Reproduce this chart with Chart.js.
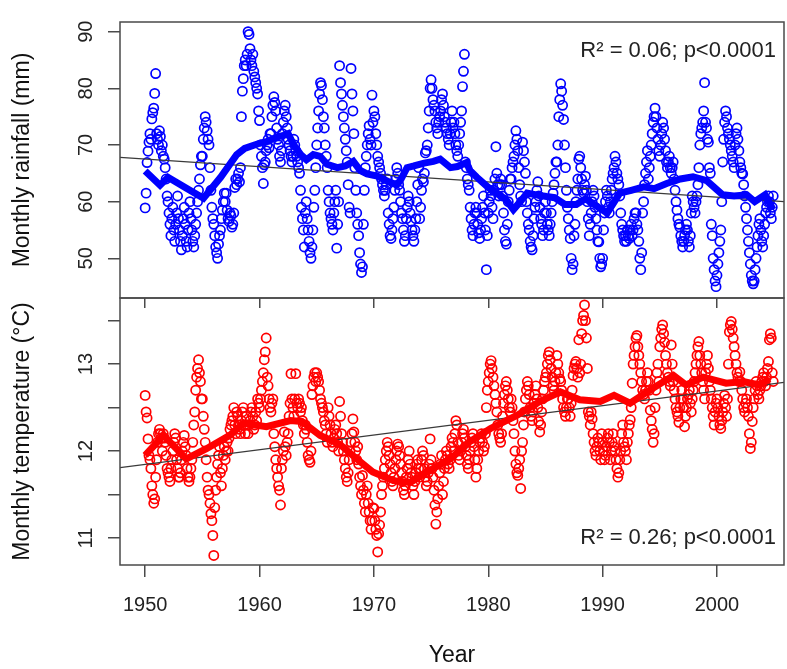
<!DOCTYPE html>
<html lang="en">
<head>
<meta charset="UTF-8">
<title>Monthly rainfall and temperature</title>
<script src="https://cdn.jsdelivr.net/npm/chart.js@4.4.1/dist/chart.umd.min.js"></script>
<style>
  html, body { margin: 0; padding: 0; background: #fff; }
  #wrap { position: relative; width: 787px; height: 669px; }
  #wrap canvas { position: absolute; left: 0; top: 0; }
</style>
</head>
<body>
<div id="wrap">
  <canvas id="rain" width="787" height="669"></canvas>
  <canvas id="temp" width="787" height="669"></canvas>
</div>
<script>
// monthly series, January 1950 onwards, one row per year
const startYear = 1950;

const rainfall = [
  58.9, 61.5, 66.9, 68.9, 70.5, 72, 71, 74.6, 75.7, 76.5, 79.1, 82.6, // 1950
  72, 71, 70, 72.5, 71.5, 69, 70, 68, 67.5, 66, 64, 61,
  60, 58, 56, 54, 57, 59, 55, 53, 56, 58, 61, 57,
  55, 53, 51.5, 54, 57, 59, 56, 53, 52, 55, 58, 60,
  57, 55, 53, 52, 54, 56, 58, 60, 62, 64, 66.5, 68,
  68, 71, 73, 75, 74, 72.5, 71, 70, 66, 62, 59, 57, // 1955
  56, 54, 52, 51, 50, 52.5, 54, 55, 57, 58.5, 60, 61.5,
  60, 61.5, 58.5, 57, 56.5, 58, 57.5, 55.5, 56, 58, 62.5, 64,
  63, 64, 65, 63.5, 66, 75, 79.5, 81.7, 84, 85, 84, 86,
  90, 89.5, 87, 85, 84, 86, 83, 82, 81, 80, 79, 76,
  74.3, 70, 68, 66, 63.2, 66.5, 67, 69, 70, 71, 69.5, 72, // 1960
  72, 75, 77, 78.5, 77.5, 76, 73, 71, 70, 68, 67, 69,
  72, 74, 76, 77, 75, 73, 71, 70, 69, 68, 67, 68,
  71, 70, 69, 68, 67, 66, 65, 62, 59, 57, 55, 52,
  58, 60, 57, 55, 53, 51, 50, 52, 55, 59, 62, 66,
  70, 73, 76, 79, 81, 80.5, 78, 75, 73, 70, 68, 66, // 1965
  62, 60, 58, 57, 56, 55, 58, 60, 62, 51.8, 56, 60,
  84, 81, 79, 77, 75, 73, 71, 69, 67, 63, 59, 58,
  83.5, 79, 76, 72, 66, 62, 58, 56, 54, 51, 49, 47.5,
  48.5, 56, 62, 66, 68, 70, 72, 73.4, 71, 70, 78.8, 74,
  76, 75, 72, 70, 68, 67, 66, 65, 64, 63, 62, 61, // 1970
  62, 63, 64, 58, 56, 54, 53.5, 55, 57, 59, 62, 64,
  66, 65, 63, 62, 60, 58, 57, 55, 53, 54, 57, 59,
  61, 60, 58, 56.5, 55, 54, 53, 55, 57, 60, 63, 66,
  57, 59, 62, 64, 63.5, 65, 68.6, 69, 70, 73, 76, 80,
  81.5, 80, 78, 77, 76, 74, 73, 72, 74, 75, 76, 78, // 1975
  79, 77, 75, 74, 73, 72, 71, 70, 72, 74, 76, 73,
  74, 72, 70, 69, 68, 70, 72, 74, 76, 80.3, 83, 86,
  67, 66, 64, 63, 62, 59, 57, 55, 54, 56, 58, 59,
  58, 56, 54.5, 53.5, 55, 57, 59, 61, 58, 55, 48, 54,
  58, 60, 62, 61, 59, 57, 62, 64, 69.7, 65, 63, 61, // 1980
  63, 64, 63, 61, 58, 55, 53, 52.5, 56, 60, 62, 64,
  64, 66, 67, 68, 70, 72.5, 71, 69, 66, 63, 61, 60,
  70.5, 69, 67, 65, 60, 58, 56, 55, 53, 52, 51.5, 54,
  57, 59, 60, 62, 63.5, 61, 59, 57, 56, 54, 55, 58,
  60, 58, 56, 55, 54, 56, 58, 60, 61.5, 63, 65, 67, // 1985
  67, 70, 75, 78, 80.8, 79.5, 77, 74.5, 70, 66, 62, 59,
  57, 55, 53.5, 50, 48, 49, 54, 56, 60, 62, 64, 67.5,
  68, 66, 64, 62, 61.5, 63, 64.5, 62, 60, 57, 54, 56,
  58, 60, 62, 61, 59, 57, 55, 53, 52.9, 50, 48.5, 49,
  50, 55, 58, 60, 62, 61, 59, 58, 60, 62, 64, 65, // 1990
  66, 68, 67, 65, 64, 63, 61, 58, 56, 55, 54, 53,
  54, 53, 55, 54, 53.5, 55, 56, 54, 55, 57, 58, 58,
  56, 55, 53, 50, 48, 51, 58, 60, 63, 65, 67, 69,
  64, 66, 68, 70, 72, 74, 75, 76.5, 75, 73, 71, 69,
  68, 70, 72, 74, 73, 71, 69, 67, 66, 67, 68, 66, // 1995
  65, 66, 67, 64, 62, 60, 58.5, 57, 56, 55.5, 54, 53,
  52, 53, 54, 55, 56, 55, 53, 52, 54, 58, 61, 60,
  59, 58, 60, 61, 63, 66, 70, 72, 73, 74, 76, 81,
  74, 73, 71, 70.5, 66, 65, 56, 54, 50, 48, 46, 45,
  47, 49, 51, 53, 55, 60, 67, 71, 74, 76, 75, 73, // 2000
  72, 71, 70, 69, 68, 67, 66, 70, 72, 73, 71, 69,
  67, 66, 65, 64.9, 63, 61, 59, 57, 55, 53, 51, 49,
  47, 46, 45.5, 46, 48, 50, 52, 54, 56, 57, 55, 53,
  52, 54, 56, 58, 59, 60, 61, 60, 58, 57, 59, 61
];

const temperature = [
  12.64, 12.45, 12.38, 12.14, 11.95, 11.9, 11.8, 11.6, 11.5, 11.4, 11.45, 11.7, // 1950
  11.9, 12.1, 12.2, 12.25, 12.2, 12.15, 12.0, 12.2, 12.15, 12.1, 11.95, 11.8,
  11.75, 11.7, 11.65, 11.8, 11.9, 12.0, 12.1, 12.2, 12.15, 11.9, 11.8, 11.7,
  11.7, 11.75, 11.9, 12.0, 12.1, 12.18, 12.05, 11.95, 11.8, 11.7, 11.65, 11.7,
  11.8, 11.9, 12.1, 12.3, 12.45, 12.7, 12.85, 12.95, 13.05, 12.9, 12.8, 12.6,
  12.6, 12.4, 12.25, 12.1, 11.9, 11.7, 11.55, 11.5, 11.4, 11.28, 11.2, 11.03, // 1955
  10.8, 11.35, 11.55, 11.7, 11.85, 11.95, 12.05, 11.75, 11.6, 11.8, 11.95, 12.05,
  11.9, 12.0, 12.1, 12.0, 12.15, 12.25, 12.3, 12.35, 12.4, 12.5, 12.3, 12.2,
  12.45, 12.4, 12.3, 12.25, 12.2, 12.35, 12.45, 12.5, 12.3, 12.2, 12.4, 12.3,
  12.2, 12.3, 12.35, 12.45, 12.5, 12.4, 12.25, 12.3, 12.45, 12.35, 12.6, 12.55,
  12.5, 12.6, 12.7, 12.8, 12.9, 13.05, 13.14, 13.3, 12.85, 12.75, 12.6, 12.5, // 1960
  12.45, 12.55, 12.6, 12.2, 12.05, 11.9, 11.8, 11.7, 11.6, 11.55, 11.38, 11.8,
  11.9, 12.0, 12.22, 12.05, 11.95, 12.1, 12.2, 12.4, 12.55, 12.89, 12.6, 12.5,
  12.4, 12.6, 12.89, 12.55, 12.5, 12.6, 12.55, 12.45, 12.5, 12.35, 12.3, 12.2,
  12.3, 12.25, 12.1, 11.95, 11.9, 11.87, 12.0, 12.65, 12.75, 12.85, 12.9, 12.8,
  12.9, 12.85, 12.8, 12.7, 12.6, 12.55, 12.5, 12.45, 12.35, 12.3, 12.2, 12.1, // 1965
  12.5, 12.4, 12.3, 12.2, 12.1, 12.05, 12.15, 12.25, 12.3, 12.2, 12.1, 12.0,
  12.57, 12.4, 12.2, 12.1, 12.0, 11.9, 11.8, 11.7, 11.65, 11.75, 11.9, 12.0,
  12.1, 12.2, 12.37, 12.22, 12.1, 12.0, 11.9, 12.05, 11.85, 11.7, 11.6, 11.5,
  11.72, 11.55, 11.4, 11.3, 11.5, 11.6, 11.4, 11.3, 11.2, 11.1, 11.2, 11.35,
  11.34, 11.2, 11.1, 11.03, 10.84, 11.05, 11.15, 11.3, 11.5, 11.6, 11.7, 11.8, // 1970
  11.9, 12.0, 12.1, 12.05, 11.95, 11.85, 11.75, 11.65, 11.6, 11.7, 11.8, 11.9,
  12.0, 12.08, 12.05, 11.95, 11.85, 11.75, 11.65, 11.55, 11.5, 11.6, 11.7, 11.8,
  11.9, 12.0, 11.85, 11.75, 11.7, 11.6, 11.5, 11.65, 11.75, 11.85, 11.9, 11.8,
  11.7, 11.8, 11.9, 12.0, 11.95, 11.8, 11.7, 11.6, 11.65, 11.75, 11.85, 12.14,
  11.9, 11.8, 11.7, 11.55, 11.38, 11.16, 11.3, 11.45, 11.6, 11.75, 11.85, 11.95, // 1975
  11.5, 11.65, 11.8, 11.9, 12.0, 11.95, 11.85, 11.8, 11.9, 12.05, 12.15, 12.1,
  12.0, 12.2, 12.35, 12.3, 12.1, 11.95, 11.9, 12.0, 12.1, 12.2, 12.25, 12.15,
  12.05, 11.95, 11.85, 11.8, 11.9, 12.0, 12.1, 12.15, 12.2, 12.05, 11.9, 11.7,
  11.8, 11.9, 12.0, 12.1, 12.15, 12.2, 12.1, 12.0, 12.05, 12.2, 12.5, 12.7,
  12.8, 12.9, 13.0, 13.04, 12.95, 12.85, 12.75, 12.65, 12.55, 12.45, 12.3, 12.2, // 1980
  12.15, 12.1, 12.2, 12.4, 12.55, 12.65, 12.75, 12.8, 12.7, 12.6, 12.5, 12.45,
  12.6, 12.5, 12.35, 12.2, 12.0, 11.85, 11.75, 11.72, 11.8, 11.9, 11.57, 12.0,
  12.1, 12.3, 12.45, 12.6, 12.7, 12.8, 12.75, 12.65, 12.5, 12.4, 12.35, 12.45,
  12.55, 12.65, 12.75, 12.6, 12.5, 12.34, 12.22, 12.3, 12.45, 12.6, 12.7, 12.8,
  12.85, 12.9, 13.0, 13.1, 13.14, 13.05, 12.95, 12.85, 12.75, 12.7, 12.8, 12.9, // 1985
  13.1, 13.0, 12.9, 12.83, 12.8, 12.7, 12.6, 12.5, 12.45, 12.4, 12.5, 12.6,
  12.6, 12.5, 12.4, 12.55, 12.7, 12.87, 12.95, 13.0, 13.03, 12.95, 12.85, 13.28,
  12.9, 13.0, 13.35, 13.5, 13.56, 13.68, 13.5, 13.3, 12.95, 12.45, 12.4, 12.3,
  12.45, 12.37, 12.2, 12.1, 12.0, 11.95, 12.05, 12.15, 12.1, 12.0, 11.9, 12.2,
  12.1, 12.0, 11.9, 11.95, 12.05, 12.15, 12.2, 12.1, 11.9, 12.0, 12.1, 12.2, // 1990
  12.05, 12.0, 11.9, 11.8, 11.7, 11.75, 11.9, 12.0, 12.2, 12.3, 12.1, 12.05,
  12.0, 11.9, 12.1, 12.2, 12.3, 12.36, 12.5, 12.78, 13.0, 13.1, 13.2, 13.3,
  13.33, 13.2, 13.1, 13.0, 12.9, 12.8, 12.7, 12.65, 12.6, 12.7, 12.8, 12.9,
  12.8, 12.7, 12.47, 12.35, 12.25, 12.1, 12.2, 12.5, 12.7, 12.9, 13.0, 12.8,
  13.2, 13.3, 13.4, 13.45, 13.35, 13.25, 13.1, 13.0, 12.9, 12.85, 12.8, 12.75, // 1995
  13.22, 13.0, 12.8, 12.7, 12.6, 12.5, 12.45, 12.4, 12.33, 12.5, 12.6, 12.7,
  12.6, 12.5, 12.28, 12.4, 12.5, 12.6, 12.65, 12.7, 12.55, 12.45, 12.6, 12.7,
  12.8, 12.9, 13.0, 13.1, 13.2, 13.26, 13.1, 13.0, 12.9, 12.8, 12.7, 12.6,
  12.9, 13.0, 13.1, 12.95, 12.8, 12.7, 12.6, 12.5, 12.4, 12.3, 12.45, 12.55,
  12.6, 12.5, 12.4, 12.3, 12.26, 12.35, 12.45, 12.55, 12.64, 12.5, 12.4, 12.6, // 2000
  13.0, 13.37, 13.45, 13.49, 13.4, 13.3, 13.2, 13.1, 13.0, 12.9, 12.85, 12.8,
  12.91, 12.8, 12.7, 12.6, 12.5, 12.45, 12.55, 12.6, 12.5, 12.4, 12.2, 12.03,
  12.1, 12.34, 12.5, 12.6, 12.7, 12.8, 12.75, 12.65, 12.6, 12.7, 12.75, 12.8,
  12.85, 12.9, 12.8, 12.75, 12.85, 12.95, 13.03, 13.28, 13.35, 13.3, 12.9, 12.8
];

// smoothed curves
const rainSmoothYears = [1950.0, 1951.3, 1952.0, 1953.5, 1955.1, 1956.6, 1958.0, 1958.7, 1960.0, 1960.6, 1961.5, 1962.1, 1962.5, 1963.0, 1963.6, 1964.1, 1964.7, 1965.3, 1965.9, 1966.8, 1967.5, 1968.2, 1968.8, 1969.4, 1970.3, 1971.4, 1972.0, 1972.3, 1972.9, 1973.5, 1974.4, 1975.2, 1975.8, 1976.7, 1977.3, 1978.1, 1978.4, 1979.0, 1980.0, 1980.7, 1981.5, 1982.2, 1982.8, 1983.4, 1984.2, 1985.1, 1985.8, 1986.7, 1987.7, 1988.5, 1989.5, 1990.4, 1991.5, 1992.5, 1993.6, 1994.5, 1995.6, 1996.8, 1997.9, 1999.1, 2000.5, 2001.5, 2002.6, 2003.3, 2004.2, 2004.9];
const rainSmooth      = [65.4, 62.9, 64.3, 62.5, 60.6, 64.3, 68.3, 69.4, 70.3, 70.6, 71.4, 71.7, 72.0, 70.0, 68.3, 67.4, 68.3, 68.0, 66.6, 66.0, 66.3, 67.1, 65.5, 64.9, 64.5, 63.4, 63.0, 63.7, 66.0, 66.3, 66.8, 67.1, 67.5, 66.0, 66.2, 66.9, 65.5, 64.3, 62.5, 61.5, 60.5, 58.6, 60.0, 61.5, 61.2, 60.9, 60.7, 59.5, 59.5, 60.5, 59.2, 58.0, 61.5, 62.0, 62.6, 62.3, 63.2, 64.0, 64.4, 63.7, 61.2, 61.0, 61.2, 60.0, 61.2, 58.6];

const tempSmoothYears = [1950.0, 1951.6, 1953.6, 1955.4, 1957.4, 1958.6, 1960.6, 1962.7, 1963.7, 1965.3, 1967.0, 1968.5, 1969.9, 1971.7, 1973.2, 1974.9, 1976.7, 1978.4, 1980.2, 1982.5, 1984.5, 1986.3, 1988.0, 1989.8, 1991.0, 1992.4, 1993.9, 1996.2, 1997.3, 1998.8, 2000.8, 2002.3, 2003.7, 2004.6];
const tempSmooth      = [11.95, 12.18, 11.91, 12.03, 12.18, 12.32, 12.28, 12.35, 12.34, 12.18, 12.08, 11.91, 11.76, 11.66, 11.64, 11.78, 11.91, 12.11, 12.26, 12.41, 12.57, 12.68, 12.59, 12.57, 12.64, 12.55, 12.68, 12.87, 12.76, 12.85, 12.78, 12.80, 12.76, 12.83];

// linear fits, drawn edge to edge
const trendYears = [1947.8, 2005.86];
const rainTrend = [67.8, 60.0];
const tempTrend = [11.81, 12.79];

const yearTicks = [1950, 1960, 1970, 1980, 1990, 2000];
const rainTicks = [50, 60, 70, 80, 90];
const tempTicks = [11, 11.5, 12, 12.5, 13, 13.5];
const tempLabelled = [11, 12, 13];

const FONT = '"Liberation Sans", Arial, sans-serif';
const axisColor = '#4a4a4a';
Chart.defaults.font.family = FONT;

const monthly = vals => vals.map((v, i) => ({ x: startYear + i / 12, y: v }));
const pairs = (xs, ys) => xs.map((x, i) => ({ x: x, y: ys[i] }));

// frame round the plot area, like R's box()
const boxPlugin = {
  id: 'box',
  afterDraw(chart) {
    const { ctx, chartArea: a } = chart;
    ctx.save();
    ctx.strokeStyle = axisColor;
    ctx.lineWidth = 1.5;
    ctx.strokeRect(a.left, a.top, a.right - a.left, a.bottom - a.top);
    ctx.restore();
  }
};

const notePlugin = {
  id: 'note',
  afterDraw(chart, args, opts) {
    const { ctx, chartArea: a } = chart;
    ctx.save();
    ctx.font = '22px ' + FONT;
    ctx.fillStyle = '#222';
    ctx.textAlign = 'right';
    ctx.textBaseline = 'middle';
    ctx.fillText(opts.text, a.right - 8, opts.top ? a.top + 29 : a.bottom - 27);
    ctx.restore();
  }
};

function panel(id, p) {
  return new Chart(document.getElementById(id), {
    type: 'scatter',
    data: {
      datasets: [
        { type: 'line', data: pairs(p.smoothX, p.smooth), borderColor: p.color, borderWidth: 7, pointRadius: 0, tension: 0 },
        { type: 'line', data: pairs(trendYears, p.trend), borderColor: '#3a3a3a', borderWidth: 1.3, pointRadius: 0 },
        { data: monthly(p.values), pointBorderColor: p.color, pointBackgroundColor: 'rgba(0,0,0,0)', pointRadius: 4.6, pointBorderWidth: 1.7 }
      ]
    },
    options: {
      responsive: false,
      animation: false,
      events: [],
      layout: { padding: p.padding, autoPadding: false },
      plugins: {
        legend: { display: false },
        tooltip: { enabled: false },
        note: { text: p.note, top: p.noteTop }
      },
      scales: {
        x: {
          type: 'linear',
          min: 1947.8,
          max: 2005.86,
          afterBuildTicks: s => { s.ticks = yearTicks.map(v => ({ value: v })); },
          afterFit: s => { s.height = p.xHeight; },
          border: { display: false },
          grid: { drawOnChartArea: false, tickLength: p.xTick, color: axisColor, lineWidth: 1.5 },
          ticks: { display: p.xLabels, padding: 16, color: '#222', font: { size: 20 }, callback: v => String(v) },
          title: { display: p.xLabels, text: 'Year', color: '#111', font: { size: 23 }, padding: { top: 0, bottom: 0 } }
        },
        y: {
          min: p.min,
          max: p.max,
          afterBuildTicks: s => { s.ticks = p.ticks.map(v => ({ value: v })); },
          afterFit: s => { s.width = 120; },
          border: { display: false },
          grid: { drawOnChartArea: false, tickLength: 12, color: axisColor, lineWidth: 1.5 },
          ticks: { minRotation: 90, maxRotation: 90, crossAlign: 'center', padding: 10, color: '#222', font: { size: 20 }, callback: p.label },
          title: { display: true, text: p.title, color: '#111', font: { size: 23 }, padding: { top: 9, bottom: 0 } }
        }
      }
    },
    plugins: [boxPlugin, notePlugin]
  });
}

panel('rain', {
  values: rainfall, smoothX: rainSmoothYears, smooth: rainSmooth, trend: rainTrend,
  color: '#0000ff', min: 43.0, max: 91.7, ticks: rainTicks, label: v => String(v),
  title: 'Monthly rainfall (mm)', note: 'R² = 0.06; p<0.0001', noteTop: true,
  padding: { top: 13, left: 0, right: 3, bottom: 361 }, xHeight: 10, xTick: 10, xLabels: false
});

panel('temp', {
  values: temperature, smoothX: tempSmoothYears, smooth: tempSmooth, trend: tempTrend,
  color: '#ff0000', min: 10.69, max: 13.76, ticks: tempTicks,
  label: v => (tempLabelled.includes(v) ? String(v) : ''),
  title: 'Monthly temperature (°C)', note: 'R² = 0.26; p<0.0001', noteTop: false,
  padding: { top: 298, left: 0, right: 3, bottom: 0 }, xHeight: 104, xTick: 12, xLabels: true
});
</script>
</body>
</html>
